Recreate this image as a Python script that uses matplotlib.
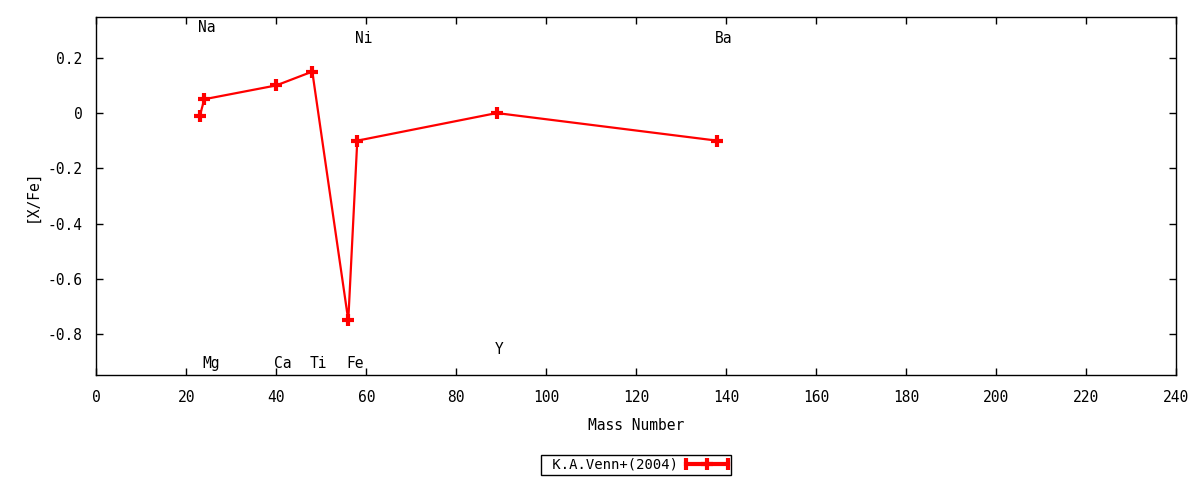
import numpy as np
import matplotlib
matplotlib.use('Agg')
import matplotlib.pyplot as plt
from matplotlib.lines import Line2D
from matplotlib.legend_handler import HandlerBase

# abundance data, K.A.Venn+(2004)
elements = ['Na', 'Mg', 'Ca', 'Ti', 'Fe', 'Ni', 'Y', 'Ba']
mass = [23, 24, 40, 48, 56, 58, 89, 138]
xfe = [-0.01, 0.05, 0.10, 0.15, -0.75, -0.10, 0.0, -0.10]
# where each element name sits (y in data units)
label_y = [0.31, -0.905, -0.905, -0.905, -0.905, 0.27, -0.855, 0.27]

xticks = np.arange(0, 241, 20)
yticks = [-0.8, -0.6, -0.4, -0.2, 0, 0.2]

plt.rcParams['font.family'] = ['DejaVu Sans Mono']
plt.rcParams['font.size'] = 10


class CapLineHandler(HandlerBase):
    # gnuplot-like key sample: thick line, caps at both ends, point in middle
    def create_artists(self, legend, orig_handle, xdescent, ydescent,
                       width, height, fontsize, trans):
        y = height / 2 - ydescent
        x0 = -xdescent
        x1 = width - xdescent
        line = Line2D([x0, x1], [y, y], color='red', lw=3, transform=trans)
        caps = Line2D([x0, x1], [y, y], ls='none', marker='|', ms=8, mew=3,
                      color='red', transform=trans)
        mid = Line2D([(x0 + x1) / 2], [y], ls='none', marker='+', ms=9, mew=3,
                     color='red', transform=trans)
        return [line, caps, mid]


fig = plt.figure(figsize=(12, 4.8), dpi=100)
ax = fig.add_axes([0.0803, 0.21875, 0.8997, 0.7458])

ln, = ax.plot(mass, xfe, color='red', lw=1.6, marker='+', ms=9, mew=3)

for el, m, ly in zip(elements, mass, label_y):
    ax.text(m - 0.5, ly, el, ha='left', va='center', fontsize=10.5)

ax.set_xlim(0, 240)
ax.set_ylim(-0.948, 0.3475)
ax.set_xticks(xticks)
ax.set_yticks(yticks)
ax.set_yticklabels(['-0.8', '-0.6', '-0.4', '-0.2', '0', '0.2'])
ax.tick_params(direction='in', length=5, width=1, top=True, right=True,
               labelsize=10.5)
ax.tick_params(axis='x', pad=11)
ax.tick_params(axis='y', pad=10)
for s in ax.spines.values():
    s.set_linewidth(1)

ax.set_xlabel('Mass Number', fontsize=10.5, va='center')
ax.xaxis.set_label_coords(0.5, -0.14)
ax.set_ylabel('[X/Fe]', fontsize=10.5, va='center')
ax.yaxis.set_label_coords(-0.0595, 0.5)

leg = fig.legend([ln], [' K.A.Venn+(2004)'], loc='center',
                 bbox_to_anchor=(636 / 1200, 1 - 465 / 480),
                 handler_map={Line2D: CapLineHandler()}, markerfirst=False,
                 fancybox=False, edgecolor='black', framealpha=1,
                 fontsize=10, handlelength=3.0, borderpad=0.25,
                 handletextpad=0.6, borderaxespad=0)
leg.get_frame().set_linewidth(1)

fig.savefig('out.png', dpi=100)
